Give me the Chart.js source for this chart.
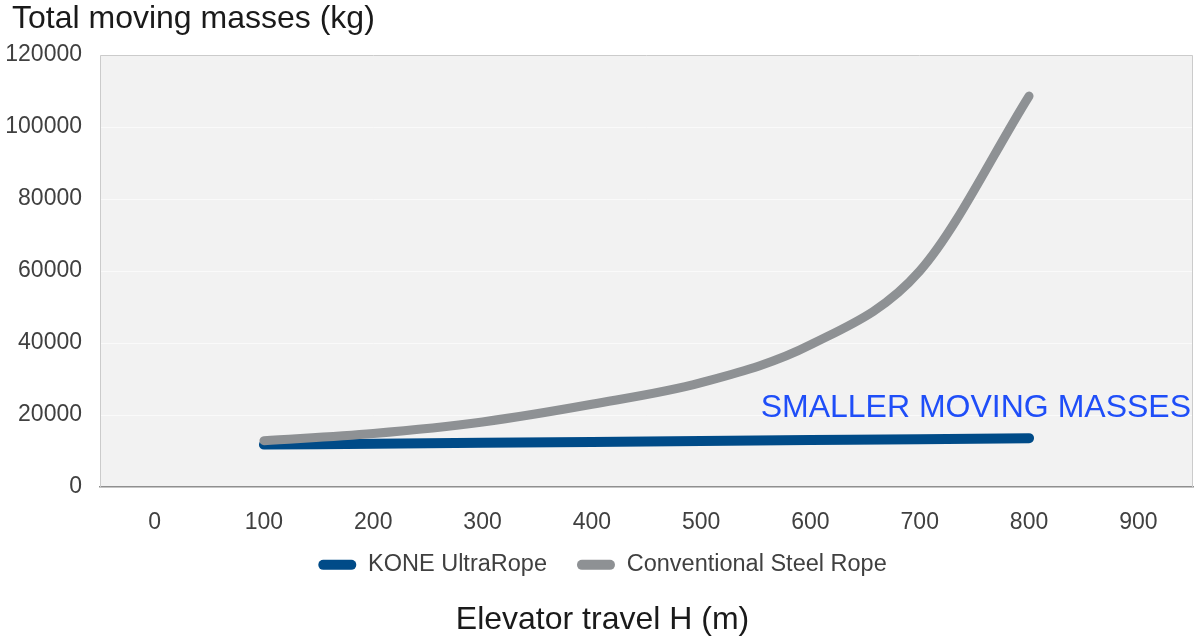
<!DOCTYPE html>
<html>
<head>
<meta charset="utf-8">
<title>Total moving masses</title>
<script src="https://cdn.jsdelivr.net/npm/chart.js@4.4.1/dist/chart.umd.min.js"></script>
<style>
  html, body { margin: 0; padding: 0; background: #fff; }
  #wrap { width: 1194px; height: 640px; position: relative; }
</style>
</head>
<body>
<div id="wrap"><canvas id="massChart"></canvas></div>
<script>
// elevator travel (m) and total moving masses (kg)
const travel = [100, 200, 300, 400, 500, 600, 700, 800];
const koneUltraRope = [11800, 12050, 12300, 12550, 12800, 13050, 13300, 13600];
const steelRope = [12900, 14900, 18100, 23000, 29000, 39500, 60000, 108600];
const xTicks = [0, 100, 200, 300, 400, 500, 600, 700, 800, 900];
const seriesNames = ["KONE UltraRope", "Conventional Steel Rope"];
const note = "SMALLER MOVING MASSES";

const font = "'Liberation Sans', Arial, sans-serif";
const points = (ys) => travel.map((x, i) => ({ x, y: ys[i] }));

// tick labels may run past their scale box here, so don't clip them
const noLabelClip = (s) => { s._computeLabelArea = () => undefined; };

// grey plot background, thin frame and the blue note
const plotFrame = {
  id: "plotFrame",
  beforeDraw(chart) {
    const { ctx, chartArea: a } = chart;
    ctx.save();
    ctx.fillStyle = "#f2f2f2";
    ctx.fillRect(a.left, a.top, a.width, a.height);
    ctx.restore();
  },
  beforeDatasetsDraw(chart) {
    const { ctx, chartArea: a } = chart;
    ctx.save();
    ctx.strokeStyle = "#cbcbcb";
    ctx.lineWidth = 1;
    ctx.beginPath();
    ctx.moveTo(a.left + 0.5, a.bottom);
    ctx.lineTo(a.left + 0.5, a.top + 0.5);
    ctx.lineTo(a.right - 0.5, a.top + 0.5);
    ctx.lineTo(a.right - 0.5, a.bottom);
    ctx.stroke();
    ctx.restore();
  },
  afterDatasetsDraw(chart) {
    const { ctx, chartArea: a, scales } = chart;
    ctx.save();
    ctx.font = "32px " + font;
    ctx.fillStyle = "#1f4ef8";
    ctx.textAlign = "right";
    ctx.textBaseline = "middle";
    ctx.fillText(note, a.right - 2, scales.y.getPixelForValue(22000));
    ctx.restore();
  }
};

new Chart(document.getElementById("massChart"), {
  type: "line",
  data: {
    datasets: [
      {
        label: seriesNames[0],
        data: points(koneUltraRope),
        borderColor: "#004b88",
        backgroundColor: "#004b88",
        borderWidth: 10,
        borderCapStyle: "round",
        borderJoinStyle: "round",
        pointRadius: 0,
        cubicInterpolationMode: "monotone",
        order: 1
      },
      {
        label: seriesNames[1],
        data: points(steelRope),
        borderColor: "#8e9194",
        backgroundColor: "#8e9194",
        borderWidth: 9,
        borderCapStyle: "round",
        borderJoinStyle: "round",
        pointRadius: 0,
        cubicInterpolationMode: "monotone",
        order: 0
      }
    ]
  },
  options: {
    responsive: true,
    maintainAspectRatio: false,
    animation: false,
    layout: { padding: { top: 0, left: 12, right: 1, bottom: 0 } },
    plugins: {
      title: {
        display: true,
        text: "Total moving masses (kg)",
        align: "start",
        color: "#1a1a1a",
        font: { family: font, size: 32, weight: "normal" },
        padding: { top: 0, bottom: 16.6 }
      },
      subtitle: {
        display: true,
        position: "bottom",
        text: "Elevator travel H (m)",
        color: "#1a1a1a",
        font: { family: font, size: 32, weight: "normal" },
        padding: { top: 14, bottom: 1 }
      },
      legend: {
        position: "bottom",
        labels: {
          boxWidth: 38,
          boxHeight: 10,
          useBorderRadius: true,
          borderRadius: 5,
          padding: 30,
          color: "#404040",
          font: { family: font, size: 23.5 },
          sort: (a, b) => a.datasetIndex - b.datasetIndex,
          generateLabels: (chart) =>
            Chart.defaults.plugins.legend.labels.generateLabels(chart).map((l) => ({ ...l, lineWidth: 0 }))
        }
      },
      tooltip: { enabled: false }
    },
    scales: {
      x: {
        type: "linear",
        min: -50,
        max: 950,
        afterBuildTicks: (s) => { s.ticks = xTicks.map((v) => ({ value: v })); },
        afterFit: (s) => { s.height = 36; noLabelClip(s); },
        grid: { display: false },
        border: { display: true, color: "#8f8f8f", width: 1.5 },
        ticks: {
          color: "#404040",
          font: { family: font, size: 23 },
          padding: 14,
          maxRotation: 0,
          autoSkip: false,
          callback: (v) => String(v)
        }
      },
      y: {
        min: 0,
        max: 120000,
        afterFit: (s) => { s.width = 88; noLabelClip(s); },
        grid: { color: "#fafafa", lineWidth: 1, drawTicks: false },
        border: { display: false },
        ticks: {
          stepSize: 20000,
          color: "#404040",
          font: { family: font, size: 23 },
          padding: 18,
          callback: (v) => String(v)
        }
      }
    }
  },
  plugins: [plotFrame]
});
</script>
</body>
</html>
